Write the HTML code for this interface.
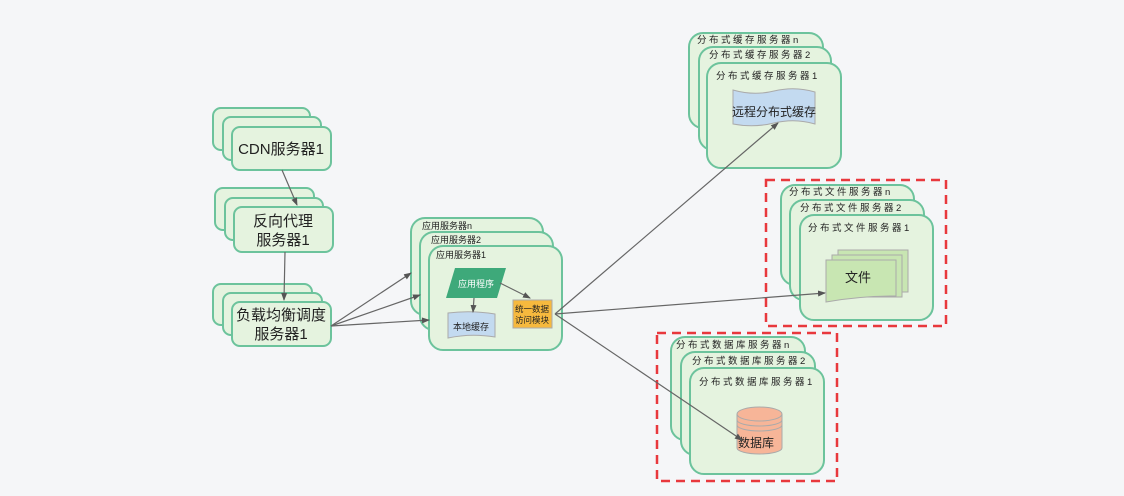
<!DOCTYPE html>
<html><head><meta charset="utf-8"><style>
html,body{margin:0;padding:0;background:#f5f6f8;}
svg{display:block;}
text{font-family:"Liberation Sans","Noto Sans CJK SC",sans-serif;fill:#222;}
</style></head><body>
<svg width="1124" height="496" viewBox="0 0 1124 496" xmlns="http://www.w3.org/2000/svg">
<defs>
<marker id="a" markerWidth="8" markerHeight="8" refX="7" refY="4" orient="auto" markerUnits="userSpaceOnUse">
<path d="M0,1 L8,4 L0,7 z" fill="#555"/></marker>
</defs>
<rect width="1124" height="496" fill="#f5f6f8"/>
<g fill="#e5f3df" stroke="#6cc39c" stroke-width="2">
<rect x="213" y="108" width="97" height="42" rx="8"/>
<rect x="223" y="117" width="98" height="43" rx="8"/>
<rect x="232" y="127" width="99" height="43" rx="8"/>
<rect x="215" y="188" width="99" height="42" rx="8"/>
<rect x="225" y="198" width="98" height="42" rx="8"/>
<rect x="234" y="207" width="99" height="45" rx="8"/>
<rect x="213" y="284" width="99" height="41" rx="8"/>
<rect x="223" y="293" width="99" height="42" rx="8"/>
<rect x="232" y="302" width="99" height="44" rx="8"/>
<rect x="411" y="218" width="132" height="97" rx="14"/>
<rect x="420" y="232" width="133" height="98" rx="14"/>
<rect x="429" y="246" width="133" height="104" rx="14"/>
<rect x="689" y="33" width="134" height="95" rx="14"/>
<rect x="699" y="47" width="132" height="103" rx="14"/>
<rect x="707" y="63" width="134" height="105" rx="14"/>
<rect x="781" y="185" width="133" height="100" rx="14"/>
<rect x="790" y="200" width="134" height="100" rx="14"/>
<rect x="800" y="215" width="133" height="105" rx="14"/>
<rect x="671" y="337" width="134" height="103" rx="14"/>
<rect x="681" y="352" width="134" height="103" rx="14"/>
<rect x="690" y="368" width="134" height="106" rx="14"/>
</g>
<g fill="none" stroke="#e8383d" stroke-width="2.5" stroke-dasharray="9,6">
<rect x="766" y="180" width="180" height="146"/>
<rect x="657" y="333" width="180" height="148"/>
</g>
<g font-size="15" text-anchor="middle">
<text x="281" y="154">CDN服务器1</text>
<text x="283" y="226">反向代理</text>
<text x="283" y="245">服务器1</text>
<text x="281" y="320">负载均衡调度</text>
<text x="281" y="339">服务器1</text>
</g>
<g font-size="9">
<text x="422" y="229">应用服务器n</text>
<text x="431" y="243">应用服务器2</text>
<text x="436" y="258">应用服务器1</text>
</g>
<g font-size="9.5" letter-spacing="2.5">
<text x="697" y="43">分布式缓存服务器n</text>
<text x="709" y="58">分布式缓存服务器2</text>
<text x="716" y="79">分布式缓存服务器1</text>
<text x="789" y="195">分布式文件服务器n</text>
<text x="800" y="211">分布式文件服务器2</text>
<text x="808" y="231">分布式文件服务器1</text>
<text x="676" y="348">分布式数据库服务器n</text>
<text x="692" y="364">分布式数据库服务器2</text>
<text x="699" y="385">分布式数据库服务器1</text>
</g>
<polygon points="455,268 506,268 497,298 446,298" fill="#3ea97a"/>
<text x="476" y="287" font-size="9" text-anchor="middle" style="fill:#fff">应用程序</text>
<path d="M448,313 Q471,310 495,314 L495,337 Q471,333 448,338 z" fill="#c3daf0" stroke="#aaa" stroke-width="1"/>
<text x="471" y="330" font-size="9" text-anchor="middle">本地缓存</text>
<rect x="513" y="300" width="39" height="28" fill="#f6b93e" stroke="#aaa" stroke-width="1"/>
<text x="532" y="312" font-size="8.5" text-anchor="middle">统一数据</text>
<text x="532" y="323" font-size="8.5" text-anchor="middle">访问模块</text>
<path d="M733,90 Q754,96 774,91 Q795,86 815,92 L815,124 Q795,118 774,123 Q754,128 733,124 z" fill="#c3daf0" stroke="#aaa" stroke-width="1"/>
<text x="774" y="116" font-size="12" text-anchor="middle">远程分布式缓存</text>
<g fill="#c8e6b2" stroke="#aaa" stroke-width="1">
<rect x="838" y="250" width="70" height="42"/>
<rect x="832" y="255" width="70" height="42"/>
<path d="M826,260 L896,260 L896,296 Q860,296 826,302 z"/>
</g>
<text x="858" y="282" font-size="13" text-anchor="middle">文件</text>
<path d="M737,414 L737,448 A22.5,6 0 0 0 782,448 L782,414" fill="#f7b598" stroke="#aaa" stroke-width="1"/>
<ellipse cx="759.5" cy="414" rx="22.5" ry="7" fill="#f7b598" stroke="#aaa" stroke-width="1"/>
<path d="M737,420 A22.5,6 0 0 0 782,420 M737,425 A22.5,6 0 0 0 782,425" fill="none" stroke="#aaa" stroke-width="1"/>
<text x="756" y="447" font-size="12" text-anchor="middle">数据库</text>
<g stroke="#666" stroke-width="1.2" fill="none" marker-end="url(#a)">
<line x1="282" y1="170" x2="297" y2="205"/>
<line x1="285" y1="252" x2="284" y2="300"/>
<line x1="331" y1="326" x2="411" y2="273"/>
<line x1="331" y1="326" x2="420" y2="295"/>
<line x1="331" y1="326" x2="429" y2="320"/>
<line x1="474" y1="298" x2="473" y2="312"/>
<line x1="500" y1="283" x2="530" y2="298"/>
<line x1="555" y1="314" x2="778" y2="123"/>
<line x1="555" y1="314" x2="825" y2="293"/>
<line x1="555" y1="314" x2="742" y2="440"/>
</g>
</svg>
</body></html>
